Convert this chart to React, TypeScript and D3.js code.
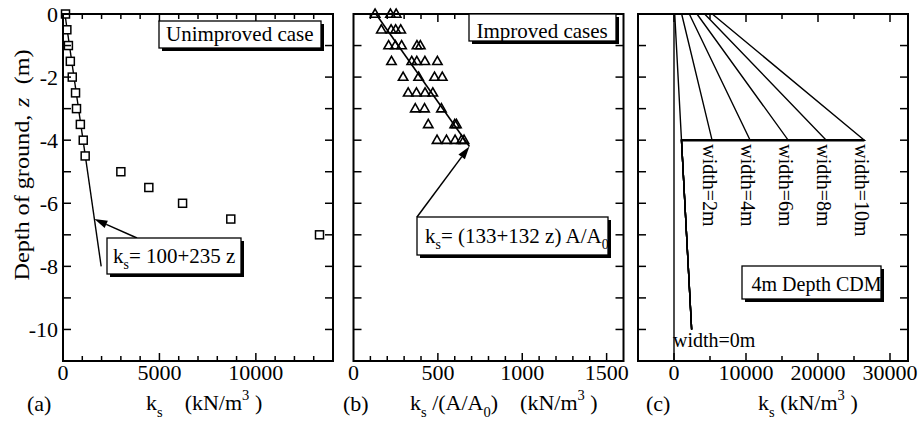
import React from 'react';
import * as d3 from 'd3';

// ---- data ----
const depthLabels = [0, -2, -4, -6, -8, -10];
const depthTickStep = 1;

// Unimproved case: measured subgrade reaction with depth
const unimprovedDepth = [0, -0.5, -1, -1.5, -2, -2.5, -3, -3.5, -4, -4.5, -5, -5.5, -6, -6.5, -7];
const unimprovedKs = [130, 200, 280, 380, 480, 650, 700, 900, 1050, 1150, 3000, 4450, 6200, 8700, 13300];

// Improved cases: ks normalised by A/A0
const improvedDepth = [
  0, 0, 0,
  -0.5, -0.5, -0.5, -0.5,
  -1, -1, -1, -1, -1,
  -1.5, -1.5, -1.5, -1.5, -1.5,
  -2, -2, -2, -2,
  -2.5, -2.5, -2.5, -2.5,
  -3, -3, -3,
  -3.5, -3.5, -3.5,
  -4, -4, -4, -4, -4,
];
const improvedKs = [
  128, 219, 253,
  165, 223, 250, 280,
  208, 248, 285, 376, 396,
  225, 345, 375, 423, 497,
  294, 386, 480, 526,
  324, 373, 424, 470,
  366, 421, 521,
  443, 600, 610,
  495, 551, 602, 640, 655,
];

// Fitted lines
const fitUnimprovedDepth = [0, -8];
const fitUnimprovedKs = [100, 1980]; // ks = 100 + 235 z
const fitImprovedDepth = [0, -4.2];
const fitImprovedKs = [133, 687]; // ks = 133 + 132 z

// 4 m deep CDM, various widths
const cdmWidths = [0, 2, 4, 6, 8, 10];
const cdmKsTop = [100, 1064, 2128, 3192, 4256, 5320];
const cdmKsBase = [1040, 5288, 10576, 15864, 21152, 26440];
const cdmBaseDepth = -4;
const cdmToeDepth = -10;
const cdmToeKs = 2450;

// Arrow targets on the fitted lines
const arrowA = { depth: -6.5, ks: 100 + 235 * 6.5 };
const arrowB = { depth: fitImprovedDepth[1], ks: fitImprovedKs[1] };

const xTicksA = [0, 5000, 10000];
const xTicksB = [0, 500, 1000, 1500];
const xTicksC = [0, 10000, 20000, 30000];

// ---- layout ----
const W = 920;
const H = 423;
const TOP = 14;
const BOTTOM = 361;
const PW = 270;
const FONT = "'Liberation Serif', 'Times New Roman', serif";

const yScale = d3.scaleLinear().domain([0, -11]).range([TOP, BOTTOM]);

const panels = [
  { x0: 63, domain: [0, 14000], major: 5000, minor: 1000, labels: xTicksA },
  { x0: 353.5, domain: [0, 1600], major: 500, minor: 100, labels: xTicksB },
  { x0: 638, domain: [-5000, 32500], major: 10000, minor: 5000, labels: xTicksC },
];
const scales = panels.map((p) =>
  d3.scaleLinear().domain(p.domain).range([p.x0, p.x0 + PW])
);

function Frame({ idx, showY }: { idx: number; showY: boolean }) {
  const p = panels[idx];
  const x = scales[idx];
  const x0 = p.x0;
  const x1 = p.x0 + PW;
  const minorVals = d3
    .range(Math.ceil(p.domain[0] / p.minor) * p.minor, p.domain[1] + 1e-6, p.minor)
    .filter((v) => x(v) > x0 + 1 && x(v) < x1 - 1);
  const yVals = d3.range(0, -11 - 1e-6, -depthTickStep).filter((v) => v !== 0 && v !== -11);
  const isMajor = (v: number) => Math.abs(v % p.major) < 1e-6;
  return (
    <g>
      {minorVals.map((v) => {
        const len = isMajor(v) ? 8 : 5;
        return (
          <g key={'xt' + v}>
            <line x1={x(v)} x2={x(v)} y1={BOTTOM} y2={BOTTOM - len} stroke="#000" strokeWidth={1.5} />
            <line x1={x(v)} x2={x(v)} y1={TOP} y2={TOP + len} stroke="#000" strokeWidth={1.5} />
          </g>
        );
      })}
      {yVals.map((v) => (
        <g key={'yt' + v}>
          <line x1={x0} x2={x0 + 8} y1={yScale(v)} y2={yScale(v)} stroke="#000" strokeWidth={1.5} />
          <line x1={x1} x2={x1 - 8} y1={yScale(v)} y2={yScale(v)} stroke="#000" strokeWidth={1.5} />
        </g>
      ))}
      <rect x={x0} y={TOP} width={PW} height={BOTTOM - TOP} fill="none" stroke="#000" strokeWidth={2} />
      {p.labels.map((v) => (
        <text key={'xl' + v} x={x(v)} y={380} textAnchor="middle" fontSize={22} fontFamily={FONT}>
          {v}
        </text>
      ))}
      {showY &&
        depthLabels.map((v) => (
          <text key={'yl' + v} x={x0 - 5} y={yScale(v) + 7.5} textAnchor="end" fontSize={22} fontFamily={FONT}>
            {v}
          </text>
        ))}
    </g>
  );
}

function LabelBox({ x, y, w, h, children }: { x: number; y: number; w: number; h: number; children: React.ReactNode }) {
  return (
    <g>
      <rect x={x + 3} y={y + 3} width={w} height={h} fill="#000" />
      <rect x={x} y={y} width={w} height={h} fill="#fff" stroke="#000" strokeWidth={1.3} />
      {children}
    </g>
  );
}

function Arrow({ from, to }: { from: [number, number]; to: [number, number] }) {
  const dx = to[0] - from[0];
  const dy = to[1] - from[1];
  const L = Math.hypot(dx, dy);
  const ux = dx / L;
  const uy = dy / L;
  const len = 13;
  const half = 4;
  const bx = to[0] - ux * len;
  const by = to[1] - uy * len;
  const pts = [
    [to[0], to[1]],
    [bx - uy * half, by + ux * half],
    [bx + uy * half, by - ux * half],
  ];
  return (
    <g>
      <line x1={from[0]} y1={from[1]} x2={bx} y2={by} stroke="#000" strokeWidth={1.5} />
      <polygon points={pts.map((q) => q.join(',')).join(' ')} fill="#000" />
    </g>
  );
}

// Text with inline subscripts / superscripts laid out as flowing tspans
type Piece = { t: string; kind?: 'sub' | 'sup'; dx?: number };
function RichLabel({ pieces, x, y, size }: { pieces: Piece[]; x: number; y: number; size: number }) {
  let shift = 0;
  return (
    <text x={x} y={y} fontSize={size} fontFamily={FONT} style={{ whiteSpace: 'pre' }}>
      {pieces.map((p, i) => {
        const target = p.kind === 'sub' ? size * 0.3 : p.kind === 'sup' ? -size * 0.45 : 0;
        const dy = target - shift;
        shift = target;
        return (
          <tspan key={i} dy={dy} dx={p.dx ?? 0} fontSize={p.kind ? size * 0.66 : size}>
            {p.t}
          </tspan>
        );
      })}
    </text>
  );
}

export default function App() {
  const [xa, xb, xc] = scales;
  const line = (xs: d3.ScaleLinear<number, number>) =>
    d3
      .line<[number, number]>()
      .x((d) => xs(d[0]))
      .y((d) => yScale(d[1]));

  const fitA = line(xa)(fitUnimprovedKs.map((k, i) => [k, fitUnimprovedDepth[i]]));
  const fitB = line(xb)(fitImprovedKs.map((k, i) => [k, fitImprovedDepth[i]]));

  const cdmPaths = cdmWidths.map((w, i) => {
    const pts: [number, number][] =
      i === 0
        ? [
            [cdmKsTop[0], 0],
            [cdmKsBase[0], cdmBaseDepth],
            [cdmToeKs, cdmToeDepth],
          ]
        : [
            [cdmKsTop[i], 0],
            [cdmKsBase[i], cdmBaseDepth],
            [cdmKsBase[0], cdmBaseDepth],
            [cdmToeKs, cdmToeDepth],
          ];
    return line(xc)(pts);
  });

  return (
    <svg
      width={W}
      height={H}
      viewBox={`0 0 ${W} ${H}`}
      style={{ position: 'absolute', left: 0, top: 0, background: '#fff' }}
    >
      <rect x={0} y={0} width={W} height={H} fill="#fff" />

      {/* Y axis title */}
      <text
        transform={`translate(29,165) rotate(-90) scale(1.1,1)`}
        textAnchor="middle"
        fontSize={22}
        fontFamily={FONT}
      >
        <tspan>Depth of ground,</tspan>
        <tspan dx={7} fontStyle="italic">z</tspan>
        <tspan dx={12}>(m)</tspan>
      </text>

      {/* Panel (a) */}
      <g>
        <path d={fitA ?? ''} fill="none" stroke="#000" strokeWidth={1.4} />
        {unimprovedKs.map((k, i) => (
          <rect
            key={i}
            x={xa(k) - 4}
            y={yScale(unimprovedDepth[i]) - 4}
            width={8}
            height={8}
            fill="#fff"
            stroke="#000"
            strokeWidth={1.5}
          />
        ))}
        <Frame idx={0} showY={true} />
        <LabelBox x={159} y={21} w={162} h={27}>
          <text x={166} y={41} fontSize={21} fontFamily={FONT}>Unimproved case</text>
        </LabelBox>
        <Arrow from={[137, 238]} to={[xa(arrowA.ks), yScale(arrowA.depth)]} />
        <LabelBox x={107} y={238} w={134} h={36}>
          <RichLabel
            x={113}
            y={263}
            size={21}
            pieces={[{ t: 'k' }, { t: 's', kind: 'sub' }, { t: '= 100+235 z' }]}
          />
        </LabelBox>
        <text x={27} y={411} fontSize={22} fontFamily={FONT}>(a)</text>
        <RichLabel
          x={146}
          y={410}
          size={22}
          pieces={[
            { t: 'k' },
            { t: 's', kind: 'sub' },
            { t: '(kN/m', dx: 22 },
            { t: '3', kind: 'sup' },
            { t: ' )' },
          ]}
        />
      </g>

      {/* Panel (b) */}
      <g>
        <path d={fitB ?? ''} fill="none" stroke="#000" strokeWidth={1.6} />
        {improvedKs.map((k, i) => {
          const cx = xb(k);
          const cy = yScale(improvedDepth[i]);
          return (
            <polygon
              key={i}
              points={`${cx},${cy - 5} ${cx - 4.7},${cy + 3.2} ${cx + 4.7},${cy + 3.2}`}
              fill="none"
              stroke="#000"
              strokeWidth={1.6}
              strokeLinejoin="miter"
            />
          );
        })}
        <Frame idx={1} showY={false} />
        <LabelBox x={469} y={14} w={147} h={27}>
          <text x={476.5} y={38} fontSize={21} fontFamily={FONT}>Improved cases</text>
        </LabelBox>
        <Arrow from={[417, 217]} to={[xb(arrowB.ks), yScale(arrowB.depth)]} />
        <LabelBox x={417} y={217} w={191} h={38}>
          <RichLabel
            x={425}
            y={243}
            size={21}
            pieces={[
              { t: 'k' },
              { t: 's', kind: 'sub' },
              { t: '= (133+132 z) A/A' },
              { t: '0', kind: 'sub' },
            ]}
          />
        </LabelBox>
        <text x={343} y={411} fontSize={22} fontFamily={FONT}>(b)</text>
        <RichLabel
          x={410}
          y={410}
          size={22}
          pieces={[
            { t: 'k' },
            { t: 's', kind: 'sub' },
            { t: ' /(A/A' },
            { t: '0', kind: 'sub' },
            { t: ')' },
            { t: '(kN/m', dx: 22 },
            { t: '3', kind: 'sup' },
            { t: ' )' },
          ]}
        />
      </g>

      {/* Panel (c) */}
      <g>
        <line x1={xc(0)} x2={xc(0)} y1={TOP} y2={BOTTOM} stroke="#000" strokeWidth={1.4} />
        {cdmPaths.map((d, i) => (
          <path key={i} d={d ?? ''} fill="none" stroke="#000" strokeWidth={1.4} />
        ))}
        <line
          x1={xc(cdmKsBase[0])}
          x2={xc(d3.max(cdmKsBase) as number)}
          y1={yScale(cdmBaseDepth)}
          y2={yScale(cdmBaseDepth)}
          stroke="#000"
          strokeWidth={2.6}
        />
        {cdmWidths.slice(1).map((w, i) => (
          <text
            key={w}
            transform={`translate(${xc(cdmKsBase[i + 1]) - 9},${yScale(cdmBaseDepth) + 4}) rotate(90)`}
            fontSize={20}
            fontFamily={FONT}
          >
            {`width=${w}m`}
          </text>
        ))}
        <text x={xc(0) - 1} y={yScale(cdmToeDepth) + 18} fontSize={20} fontFamily={FONT}>
          {`width=${cdmWidths[0]}m`}
        </text>
        <Frame idx={2} showY={false} />
        <LabelBox x={742} y={266} w={139} h={33}>
          <text x={751.5} y={291} fontSize={20} fontFamily={FONT}>4m Depth CDM</text>
        </LabelBox>
        <text x={646} y={411} fontSize={22} fontFamily={FONT}>(c)</text>
        <RichLabel
          x={758}
          y={410}
          size={22}
          pieces={[
            { t: 'k' },
            { t: 's', kind: 'sub' },
            { t: ' (kN/m' },
            { t: '3', kind: 'sup' },
            { t: ' )' },
          ]}
        />
      </g>
    </svg>
  );
}
